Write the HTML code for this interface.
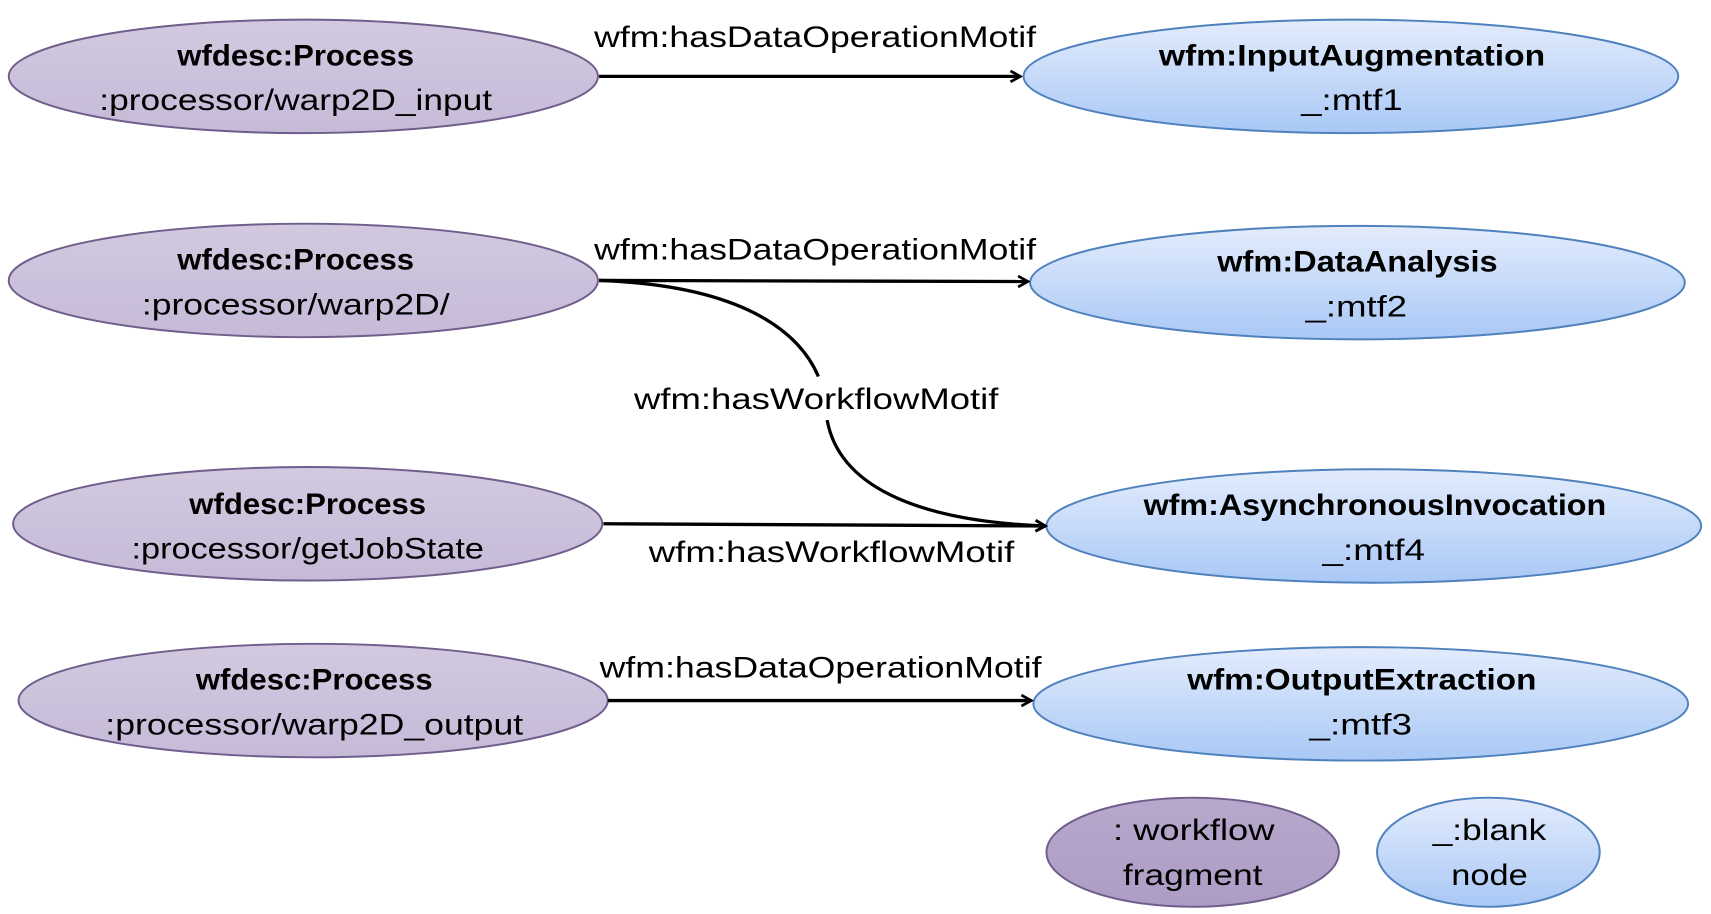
<!DOCTYPE html>
<html><head><meta charset="utf-8"><style>html,body{margin:0;padding:0;background:#fff;overflow:hidden}svg{display:block}</style></head>
<body>
<svg width="1711" height="914" viewBox="0 0 1568 837.6" preserveAspectRatio="none" xmlns="http://www.w3.org/2000/svg" font-family="Liberation Sans, sans-serif" font-size="27" text-anchor="middle">
<defs>
<linearGradient id="p" x1="0" y1="0" x2="0" y2="1"><stop offset="0" stop-color="#d2c9e0"/><stop offset="1" stop-color="#c6bad8"/></linearGradient>
<linearGradient id="b" x1="0" y1="0" x2="0" y2="1"><stop offset="0" stop-color="#e3ecfc"/><stop offset="1" stop-color="#a9c8f6"/></linearGradient>
<linearGradient id="lp" x1="0" y1="0" x2="0" y2="1"><stop offset="0" stop-color="#b8a8cc"/><stop offset="1" stop-color="#ad9cc4"/></linearGradient>
<marker id="a" markerWidth="12" markerHeight="12" refX="10" refY="6" orient="auto" markerUnits="userSpaceOnUse"><path d="M1,1 L10,6 L1,11" fill="none" stroke="#000" stroke-width="2.5"/></marker>
</defs>
<g stroke="#6f5e8c" stroke-width="1.8" fill="url(#p)">
<ellipse cx="278" cy="70" rx="270" ry="52"/>
<ellipse cx="278" cy="257" rx="270" ry="52"/>
<ellipse cx="282" cy="480" rx="270" ry="52"/>
<ellipse cx="287" cy="642" rx="270" ry="52"/>
</g>
<g stroke="#4f81bd" stroke-width="1.8" fill="url(#b)">
<ellipse cx="1238" cy="70" rx="300" ry="52"/>
<ellipse cx="1244" cy="259" rx="300" ry="52"/>
<ellipse cx="1259" cy="482" rx="300" ry="52"/>
<ellipse cx="1247" cy="645" rx="300" ry="52"/>
<ellipse cx="1364" cy="781" rx="102" ry="50"/>
</g>
<ellipse cx="1093" cy="781" rx="134" ry="50" fill="url(#lp)" stroke="#6f5e8c" stroke-width="1.8"/>
<g stroke="#000" stroke-width="3" fill="none" marker-end="url(#a)">
<line x1="549" y1="70" x2="935" y2="70"/>
<line x1="549" y1="257" x2="942" y2="258"/>
<path d="M758,385 C770,450 850,478 958,482"/>
<line x1="553" y1="480" x2="958" y2="482"/>
<line x1="557" y1="642" x2="945" y2="642"/>
</g>
<path d="M549,257 C690,262 735,310 750,345" stroke="#000" stroke-width="3" fill="none"/>
<g font-weight="bold">
<text x="271" y="60" textLength="217" lengthAdjust="spacingAndGlyphs">wfdesc:Process</text>
<text x="271" y="247" textLength="217" lengthAdjust="spacingAndGlyphs">wfdesc:Process</text>
<text x="282" y="471" textLength="217" lengthAdjust="spacingAndGlyphs">wfdesc:Process</text>
<text x="288" y="632" textLength="217" lengthAdjust="spacingAndGlyphs">wfdesc:Process</text>
<text x="1239" y="60" textLength="354" lengthAdjust="spacingAndGlyphs">wfm:InputAugmentation</text>
<text x="1244" y="249" textLength="257" lengthAdjust="spacingAndGlyphs">wfm:DataAnalysis</text>
<text x="1260" y="472" textLength="424" lengthAdjust="spacingAndGlyphs">wfm:AsynchronousInvocation</text>
<text x="1248" y="632" textLength="320" lengthAdjust="spacingAndGlyphs">wfm:OutputExtraction</text>
</g>
<g>
<text x="271" y="101" textLength="360" lengthAdjust="spacingAndGlyphs">:processor/warp2D_input</text>
<text x="271" y="288" textLength="282" lengthAdjust="spacingAndGlyphs">:processor/warp2D/</text>
<text x="282" y="512" textLength="323" lengthAdjust="spacingAndGlyphs">:processor/getJobState</text>
<text x="288" y="673" textLength="383" lengthAdjust="spacingAndGlyphs">:processor/warp2D_output</text>
<text x="1239" y="101" textLength="93" lengthAdjust="spacingAndGlyphs">_:mtf1</text>
<text x="1243" y="290" textLength="93" lengthAdjust="spacingAndGlyphs">_:mtf2</text>
<text x="1259" y="513" textLength="94" lengthAdjust="spacingAndGlyphs">_:mtf4</text>
<text x="1247" y="673" textLength="94" lengthAdjust="spacingAndGlyphs">_:mtf3</text>
<text x="1094" y="770" textLength="148" lengthAdjust="spacingAndGlyphs">: workflow</text>
<text x="1093" y="811" textLength="128" lengthAdjust="spacingAndGlyphs">fragment</text>
<text x="1365" y="770" textLength="104" lengthAdjust="spacingAndGlyphs">_:blank</text>
<text x="1365" y="811" textLength="70" lengthAdjust="spacingAndGlyphs">node</text>
<text x="747" y="43" textLength="405" lengthAdjust="spacingAndGlyphs">wfm:hasDataOperationMotif</text>
<text x="747" y="238" textLength="405" lengthAdjust="spacingAndGlyphs">wfm:hasDataOperationMotif</text>
<text x="748" y="375" textLength="334" lengthAdjust="spacingAndGlyphs">wfm:hasWorkflowMotif</text>
<text x="762" y="515" textLength="335" lengthAdjust="spacingAndGlyphs">wfm:hasWorkflowMotif</text>
<text x="752" y="621" textLength="405" lengthAdjust="spacingAndGlyphs">wfm:hasDataOperationMotif</text>
</g>
</svg>
</body></html>
